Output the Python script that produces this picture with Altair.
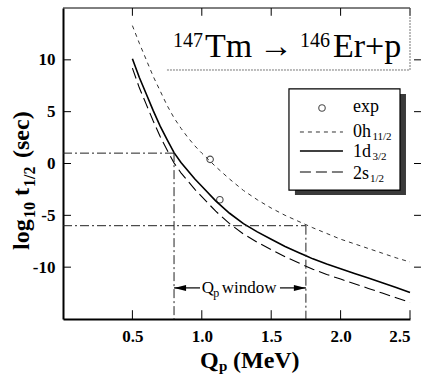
import altair as alt
import pandas as pd

# ---- half-life curves for 147Tm -> 146Er + p (log10 of seconds) ----
q_grid = [0.50, 0.55, 0.60, 0.65, 0.70, 0.75, 0.80, 0.85, 0.90, 0.95, 1.00,
          1.10, 1.20, 1.30, 1.40, 1.50, 1.60, 1.70, 1.75, 1.80, 1.90, 2.00,
          2.10, 2.20, 2.30, 2.40, 2.50]
logt_h11 = [13.3, 11.6, 10.0, 8.4, 7.0, 5.6, 4.4, 3.4, 2.5, 1.7, 1.0,
            -0.3, -1.5, -2.6, -3.5, -4.3, -5.0, -5.6, -5.9, -6.2, -6.75, -7.3,
            -7.75, -8.2, -8.65, -9.1, -9.5]
logt_d3 = [10.1, 8.3, 6.7, 5.1, 3.6, 2.3, 1.05, 0.1, -0.7, -1.5, -2.2,
           -3.6, -4.8, -5.8, -6.6, -7.3, -8.0, -8.6, -8.9, -9.2, -9.7, -10.15,
           -10.6, -11.05, -11.5, -11.95, -12.45]
logt_s1 = [9.2, 7.3, 5.7, 4.1, 2.6, 1.3, 0.05, -0.9, -1.7, -2.5, -3.2,
           -4.6, -5.8, -6.8, -7.6, -8.3, -9.0, -9.6, -9.9, -10.2, -10.7, -11.15,
           -11.6, -12.05, -12.5, -12.95, -13.4]

# measured values
exp_q = [1.06, 1.13]
exp_logt = [0.40, -3.50]

# Q_p window: half-life limits and the Q values they map to
window_logt = [1.0, -6.0]
window_q = [0.80, 1.75]

x_ticks = [0.5, 1.0, 1.5, 2.0, 2.5]
y_ticks = [-10, -5, 0, 5, 10]

X_DOMAIN = [0.0, 2.5]
Y_DOMAIN = [-15.0, 15.0]

SERIF = "Liberation Serif"

xs = alt.Scale(domain=X_DOMAIN, nice=False, zero=False)
ys = alt.Scale(domain=Y_DOMAIN, nice=False, zero=False)

# one axis definition shared by every layer so the merged axes agree
X_AXIS = alt.Axis(
    values=x_ticks, labelExpr="format(datum.value, '.1f')", title=None,
    grid=False, ticks=False, domain=True, domainColor="black", domainWidth=2,
    labelFont=SERIF, labelFontWeight="bold", labelFontSize=17,
    labelColor="black", labelPadding=9)
Y_AXIS = alt.Axis(
    values=y_ticks, labelExpr="'' + datum.value", title=None,
    grid=False, ticks=False, domain=True, domainColor="black", domainWidth=2,
    labelFont=SERIF, labelFontWeight="bold", labelFontSize=17,
    labelColor="black", labelPadding=8)


def X(field="x"):
    return alt.X(f"{field}:Q", scale=xs, axis=X_AXIS)


def Y(field="y"):
    return alt.Y(f"{field}:Q", scale=ys, axis=Y_AXIS)


def text_piece(x, y, text, dx=0, dy=0, size=18, bold=False, angle=0,
               align="left", baseline="alphabetic"):
    df = pd.DataFrame({"x": [x], "y": [y], "t": [text]})
    kw = dict(font=SERIF, fontSize=size, fontWeight="bold" if bold else "normal",
              align=align, baseline=baseline, dx=dx, dy=dy, color="black")
    if angle:
        kw["angle"] = angle
    return alt.Chart(df).mark_text(**kw).encode(x=X(), y=Y(), text="t:N")


def segment(x, x2, y, y2, **mark):
    df = pd.DataFrame({"x": x, "x2": x2, "y": y, "y2": y2})
    return alt.Chart(df).mark_rule(**mark).encode(
        x=X(), x2="x2:Q", y=Y(), y2="y2:Q")


# ---- curves ----
curves = pd.DataFrame({
    "Q": q_grid * 3,
    "logt": logt_h11 + logt_d3 + logt_s1,
    "state": ["0h11/2"] * len(q_grid) + ["1d3/2"] * len(q_grid) + ["2s1/2"] * len(q_grid),
})

base = alt.Chart(curves).encode(x=X("Q"), y=Y("logt"))

line_h11 = base.transform_filter("datum.state == '0h11/2'").mark_line(
    color="#333333", strokeWidth=1, strokeDash=[4, 4])
line_d3 = base.transform_filter("datum.state == '1d3/2'").mark_line(
    color="black", strokeWidth=1.6)
line_s1 = base.transform_filter("datum.state == '2s1/2'").mark_line(
    color="black", strokeWidth=1.1, strokeDash=[11, 5])

points = alt.Chart(pd.DataFrame({"x": exp_q, "y": exp_logt})).mark_point(
    shape="circle", size=42, filled=False, color="black", strokeWidth=1.1
).encode(x=X(), y=Y())

# ---- frame ticks (inward on left/top/bottom, outward on right) ----
tick_len_x = 0.0576   # ~8 px in Q units
tick_len_y = 0.85     # ~9 px in log t units
ticks = [
    segment(x_ticks, x_ticks, [Y_DOMAIN[0]] * 5, [Y_DOMAIN[0] + tick_len_y] * 5,
            color="black", strokeWidth=1),
    segment(x_ticks, x_ticks, [Y_DOMAIN[1]] * 5, [Y_DOMAIN[1] - 0.75] * 5,
            color="black", strokeWidth=1),
    segment([X_DOMAIN[0]] * 5, [X_DOMAIN[0] + tick_len_x] * 5, y_ticks, y_ticks,
            color="black", strokeWidth=1),
    segment([X_DOMAIN[1] + 0.029] * 5, [X_DOMAIN[1] + 0.079] * 5, y_ticks, y_ticks,
            color="black", strokeWidth=1),
]
top_edge = segment([X_DOMAIN[0]], [X_DOMAIN[1]], [Y_DOMAIN[1]], [Y_DOMAIN[1]],
                   color="black", strokeWidth=1)

# ---- Q_p window guide lines ----
dashdot = dict(color="#222222", strokeWidth=1, strokeDash=[9, 3, 2, 3])
window_lines = [
    segment([X_DOMAIN[0]] * 2, window_q, window_logt, window_logt, **dashdot),
    segment(window_q, window_q, window_logt, [Y_DOMAIN[0]] * 2, **dashdot),
]
arrow_y = -12.0
arrow_lines = segment([window_q[0], 1.563], [0.987, window_q[1]],
                      [arrow_y, arrow_y], [arrow_y, arrow_y],
                      color="black", strokeWidth=1.2)
arrow_left = alt.Chart(pd.DataFrame({"x": [window_q[0]], "y": [arrow_y]})).mark_point(
    shape="M0,0L2,-0.5L2,0.5Z", size=144, filled=True, color="black", opacity=1
).encode(x=X(), y=Y())
arrow_right = alt.Chart(pd.DataFrame({"x": [window_q[1]], "y": [arrow_y]})).mark_point(
    shape="M0,0L-2,-0.5L-2,0.5Z", size=144, filled=True, color="black", opacity=1
).encode(x=X(), y=Y())
window_label = [
    text_piece(0.999, -12.49, "Q", size=17),
    text_piece(0.999, -12.49, "p", dx=11.5, dy=4, size=12),
    text_piece(0.999, -12.49, "window", dx=20, size=17),
]

# ---- reaction label in a dotted box ----
title_box = [
    segment([0.749], [2.5], [9.02], [9.02], color="#777777", strokeWidth=1,
            strokeDash=[2, 1]),
    segment([2.5], [2.5], [9.02], [15.0], color="#777777", strokeWidth=1,
            strokeDash=[2, 1]),
]
tx, ty = 0.7925, 10.30
title_text = [
    text_piece(tx, ty, "147", dx=0, dy=-10, size=20),
    text_piece(tx, ty, "Tm", dx=32, size=34),
    text_piece(tx, ty, "\u2192", dx=86, size=34),
    text_piece(tx, ty, "146", dx=127, dy=-10, size=20),
    text_piece(tx, ty, "Er+p", dx=160, size=34),
]

# ---- legend box with drop shadow ----
legend_shadow = alt.Chart(pd.DataFrame(
    {"x": [1.671], "x2": [2.471], "y": [6.71], "y2": [-3.04]})).mark_rect(
    color="#3a3a3a").encode(x=X(), x2="x2:Q", y=Y(), y2="y2:Q")
legend_frame = alt.Chart(pd.DataFrame(
    {"x": [1.628], "x2": [2.428], "y": [7.19], "y2": [-2.56]})).mark_rect(
    fill="white", stroke="black", strokeWidth=1.2).encode(
    x=X(), x2="x2:Q", y=Y(), y2="y2:Q")
legend_marker = alt.Chart(pd.DataFrame({"x": [1.866], "y": [5.35]})).mark_point(
    shape="circle", size=42, filled=False, color="black", strokeWidth=1.1
).encode(x=X(), y=Y())
lx0, lx1 = 1.707, 2.017
legend_lines = [
    segment([lx0], [lx1], [3.04], [3.04], color="#333333", strokeWidth=1,
            strokeDash=[4, 4]),
    segment([lx0], [lx1], [1.21], [1.21], color="black", strokeWidth=1.6),
    segment([lx0], [lx1], [-0.82], [-0.82], color="black", strokeWidth=1.1,
            strokeDash=[11, 5]),
]
tlx = 2.089
legend_text = [
    text_piece(tlx, 4.94, "exp", size=18),
    text_piece(tlx, 2.51, "0h", size=18),
    text_piece(tlx, 2.51, "11/2", dx=19.5, dy=3, size=11),
    text_piece(tlx, 0.58, "1d", size=18),
    text_piece(tlx, 0.58, "3/2", dx=19.5, dy=3, size=11),
    text_piece(tlx, -1.45, "2s", size=18),
    text_piece(tlx, -1.45, "1/2", dx=17, dy=3, size=11),
]

# ---- axis titles with sub-scripts ----
xt_x, xt_y = 0.987, -19.75
x_title = [
    text_piece(xt_x, xt_y, "Q", size=24, bold=True),
    text_piece(xt_x, xt_y, "p", dx=19, dy=3, size=15, bold=True),
    text_piece(xt_x, xt_y, "(MeV)", dx=33, size=24, bold=True),
]
yt_x, yt_y = -0.245, -8.34
y_title = [
    text_piece(yt_x, yt_y, "log", size=24, bold=True, angle=270),
    text_piece(yt_x, yt_y, "10", dx=32, dy=6, size=16, bold=True, angle=270),
    text_piece(yt_x, yt_y, "t", dx=54, size=24, bold=True, angle=270),
    text_piece(yt_x, yt_y, "1/2", dx=63, dy=6, size=16, bold=True, angle=270),
    text_piece(yt_x, yt_y, "(sec)", dx=92, size=24, bold=True, angle=270),
]

layers = ([line_h11, line_d3, line_s1, points] + ticks + [top_edge] + window_lines
          + [arrow_lines, arrow_left, arrow_right] + window_label + title_box
          + title_text + [legend_shadow, legend_frame, legend_marker]
          + legend_lines + legend_text + x_title + y_title)

chart = alt.layer(*layers).properties(
    width=347, height=311,
    autosize=alt.AutoSizeParams(type="none"),
    padding={"left": 63, "top": 8, "right": 13, "bottom": 59},
    background="white",
).configure_view(stroke=None)

chart.save("out.html", embed_options={"renderer": "svg", "actions": False})
